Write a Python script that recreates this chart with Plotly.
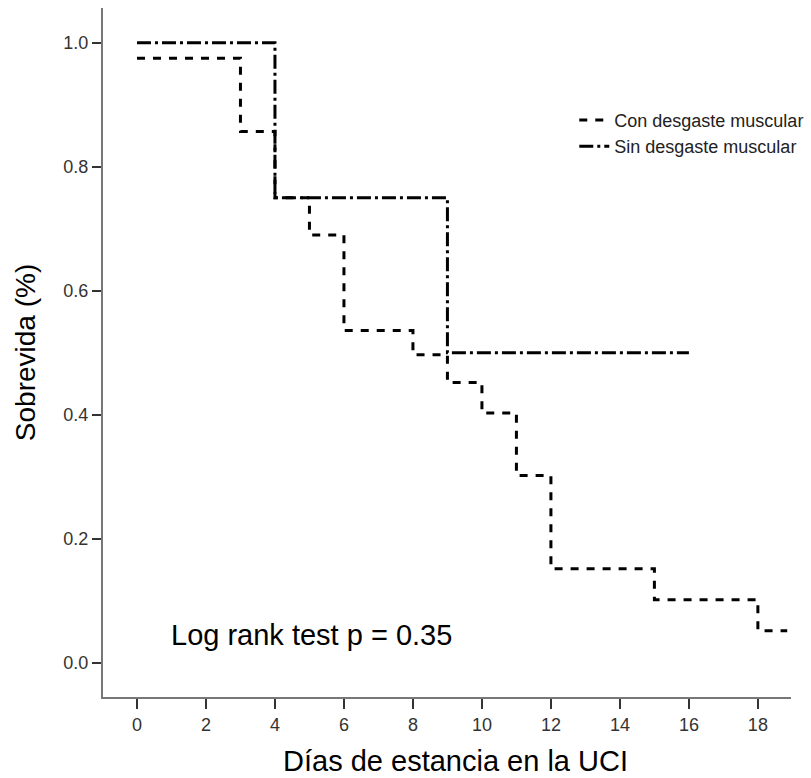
import plotly.graph_objects as go

# Data
con_days = [0, 3, 4, 5, 6, 8, 9, 10, 11, 12, 15, 18, 18.85]
con_surv = [0.975, 0.857, 0.75, 0.69, 0.536, 0.497, 0.452, 0.403, 0.302, 0.152, 0.102, 0.052, 0.052]
sin_days = [0, 4, 9, 16]
sin_surv = [1.0, 0.75, 0.5, 0.5]
x_ticks = [0, 2, 4, 6, 8, 10, 12, 14, 16, 18]
y_ticks = [0.0, 0.2, 0.4, 0.6, 0.8, 1.0]
series_names = ["Con desgaste muscular", "Sin desgaste muscular"]
annotation_text = "Log rank test p = 0.35"
x_title = "Días de estancia en la UCI"
y_title = "Sobrevida (%)"

fig = go.Figure()
fig.add_trace(go.Scatter(
    x=con_days, y=con_surv, mode="lines", line_shape="hv",
    name=series_names[0],
    line=dict(color="black", width=3, dash="8px,8px"),
))
fig.add_trace(go.Scatter(
    x=sin_days, y=sin_surv, mode="lines", line_shape="hv",
    name=series_names[1],
    line=dict(color="black", width=3, dash="14px,4px,3px,4px"),
))

narrow = "Liberation Sans Narrow, Arial Narrow, Liberation Sans, Arial, sans-serif"
regular = "Liberation Sans, Arial, sans-serif"
fig.update_layout(
    width=811, height=778,
    margin=dict(l=103, r=20, t=8, b=81, autoexpand=False),
    plot_bgcolor="white", paper_bgcolor="white",
    showlegend=True,
    legend=dict(x=0.685, y=0.864, xanchor="left", yanchor="top",
                font=dict(family=narrow, size=18, color="#222"),
                bgcolor="rgba(0,0,0,0)", tracegroupgap=0, itemwidth=30),
    annotations=[
        dict(text=annotation_text, x=0.93, y=0.045, xref="x", yref="y",
             xanchor="left", yanchor="middle", showarrow=False,
             font=dict(family=regular, size=29, color="black")),
        dict(text=x_title, x=0.513, y=-0.093, xref="paper", yref="paper",
             xanchor="center", yanchor="middle", showarrow=False,
             font=dict(family=regular, size=29, color="black")),
    ],
)
fig.update_xaxes(
    range=[-0.985, 18.96], tickvals=x_ticks, ticks="outside", ticklen=10, tickwidth=2,
    tickcolor="#333", showline=True, linecolor="#777", linewidth=2, showgrid=False,
    zeroline=False, tickfont=dict(family=narrow, size=18, color="#333"),
)
fig.update_yaxes(
    range=[-0.055, 1.056], tickvals=y_ticks, tickformat=".1f", ticks="outside", ticklen=9,
    tickwidth=2, tickcolor="#333", showline=True, linecolor="#777", linewidth=2,
    showgrid=False, zeroline=False, tickfont=dict(family=narrow, size=18, color="#333"),
    title=dict(text=y_title, standoff=20,
               font=dict(family=regular, size=28, color="black")),
)
fig.write_html("out.html", config={"displayModeBar": False},
               post_script="document.body.style.margin='0';")
